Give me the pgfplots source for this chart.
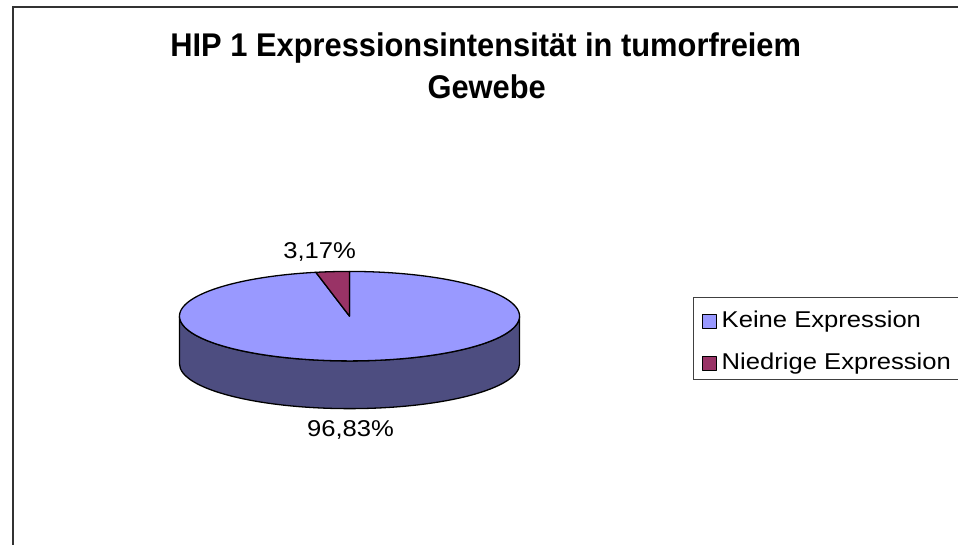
\documentclass[border=0pt]{standalone}
\usepackage{pgfplots}
\usepackage{pgfplotstable}
\pgfplotsset{compat=1.18}
\usepackage{fontspec}
\setmainfont{Liberation Sans}
\definecolor{keine}{HTML}{9999FF}
\definecolor{keineside}{HTML}{4D4D80}
\definecolor{niedrig}{HTML}{993366}
\pgfplotstableread{
label value
Keine 96.83
Niedrige 3.17
}\piedata
\newcommand{\tx}[1]{\scalebox{1.12}[1]{#1}}
\newcommand{\ttl}[1]{\scalebox{0.94}[1]{#1}}
\begin{document}
\pgfplotstablegetelem{1}{value}\of\piedata
\pgfmathsetmacro{\aEnd}{90+\pgfplotsretval*3.6}
\def\cx{346}\def\cy{230}\def\rx{171}\def\ry{45}\def\dep{48}
\begin{tikzpicture}
\begin{axis}[scale only axis, width=958bp, height=548bp,
  xmin=0, xmax=958, ymin=0, ymax=548, hide axis, clip=false,
  legend cell align=left,
  legend image code/.code={\draw[#1,line width=1bp] (0bp,-7bp) rectangle (14bp,7bp); \path (19bp,0bp);},
  legend style={at={(axis cs:700,236)}, anchor=north west, draw=none, fill=none,
    inner sep=0pt, row sep=20bp, font=\fontsize{23bp}{27bp}\selectfont,
    nodes={inner sep=0pt, text height=17bp, text depth=5bp}},
]
\coordinate (ll) at (axis cs:0,0);
\coordinate (ur) at (axis cs:958,548);
% side of the pie
\addplot[forget plot, fill=keineside, draw=black, line width=1.3bp, line join=round,
  domain=180:360, samples=120]
  ({\cx+\rx*cos(x)},{\cy+\ry*sin(x)})
  -- (axis cs:{\cx+\rx},{\cy-\dep})
  arc[start angle=0, end angle=-180, x radius=\rx bp, y radius=\ry bp]
  -- cycle;
% top: Keine
\addplot[fill=keine, draw=black, line width=1.3bp, line join=round,
  domain=\aEnd:450, samples=200]
  ({\cx+\rx*cos(x)},{\cy+\ry*sin(x)}) -- (axis cs:\cx,\cy) -- cycle;
\addlegendentry{\tx{Keine Expression}}
% top: Niedrige
\addplot[fill=niedrig, draw=black, line width=1.3bp, line join=round,
  domain=90:\aEnd, samples=12]
  ({\cx+\rx*cos(x)},{\cy+\ry*sin(x)}) -- (axis cs:\cx,\cy) -- cycle;
\addlegendentry{\tx{Niedrige Expression}}
% legend frame (extends beyond right edge)
\draw[black!75, line width=1.2bp] (axis cs:958,249) -- (axis cs:692,249) -- (axis cs:692,166) -- (axis cs:958,166);
% outer chart frame
\draw[black!80, line width=2bp] (axis cs:8,0) -- (axis cs:8,541) -- (axis cs:958,541);
% title
\node[font=\fontsize{33bp}{38bp}\selectfont\bfseries, anchor=base] at (axis cs:483,491) {\ttl{HIP 1 Expressionsintensität in tumorfreiem}};
\node[font=\fontsize{33bp}{38bp}\selectfont\bfseries, anchor=base] at (axis cs:484,449) {\ttl{Gewebe}};
% data labels
\node[font=\fontsize{23bp}{27bp}\selectfont, anchor=center] at (axis cs:316,295) {\tx{3,17\%}};
\node[font=\fontsize{23bp}{27bp}\selectfont, anchor=center] at (axis cs:347,116) {\tx{96,83\%}};
\end{axis}
\pgfresetboundingbox
\path (ll) rectangle (ur);
\end{tikzpicture}
\end{document}
